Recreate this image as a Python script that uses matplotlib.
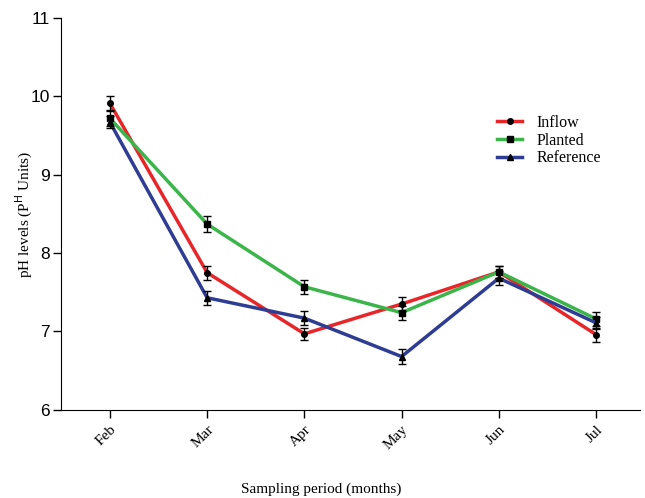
import matplotlib.pyplot as plt
import numpy as np

months = ['Feb', 'Mar', 'Apr', 'May', 'Jun', 'Jul']
inflow = [9.91, 7.75, 6.97, 7.35, 7.76, 6.96]
inflow_err = [0.10, 0.09, 0.08, 0.09, 0.08, 0.09]
planted = [9.72, 8.37, 7.57, 7.24, 7.76, 7.16]
planted_err = [0.10, 0.10, 0.09, 0.09, 0.08, 0.09]
reference = [9.67, 7.43, 7.17, 6.68, 7.68, 7.11]
reference_err = [0.08, 0.09, 0.09, 0.09, 0.09, 0.08]

serif = ['Liberation Serif', 'DejaVu Serif']
sans = ['Liberation Sans', 'DejaVu Sans']

fig = plt.figure(figsize=(6.45, 4.98), dpi=100)
ax = fig.add_axes([0.095, 0.177, 0.897, 0.787])

x = np.arange(len(months))
series = [
    ('Inflow', inflow, inflow_err, '#E8262A', 'o', 4),
    ('Planted', planted, planted_err, '#3BB54A', 's', 4),
    ('Reference', reference, reference_err, '#2E3D93', '^', 4),
]
for name, vals, err, col, mk, ms in series:
    ax.plot(x, vals, color=col, lw=2.5, label=name, zorder=2,
            marker=mk, markersize=ms, markerfacecolor='black', markeredgecolor='black')
    ax.errorbar(x, vals, yerr=err, fmt='none', ecolor='black', elinewidth=1,
                capsize=3, capthick=1, zorder=3)

ax.set_xlim(-0.5, 5.45)
ax.set_ylim(6, 11)
ax.set_yticks([6, 7, 8, 9, 10, 11])
ax.set_xticks(x)
ax.set_xticklabels(months, rotation=45, ha='right', rotation_mode='anchor',
                   family=serif, fontsize=11)
for t in ax.get_yticklabels():
    t.set_family(sans)
    t.set_fontsize(12.5)
ax.tick_params(direction='out', length=6, width=1)
ax.tick_params(axis='y', pad=2)
ax.spines['top'].set_visible(False)
ax.spines['right'].set_visible(False)

ax.set_ylabel('pH levels (P$^{\\mathrm{H}}$ Units)', family=serif, fontsize=11)
ax.yaxis.set_label_coords(-0.045, 0.5)
ax.set_xlabel('Sampling period (months)', family=serif, fontsize=11)
ax.xaxis.set_label_coords(0.45, -0.185)

leg = ax.legend(loc='upper left', bbox_to_anchor=(0.728, 0.79), frameon=False,
                prop={'family': serif, 'size': 11.5}, handlelength=1.6,
                labelspacing=0.12, handletextpad=0.9)

fig.savefig('out.png', dpi=100)
